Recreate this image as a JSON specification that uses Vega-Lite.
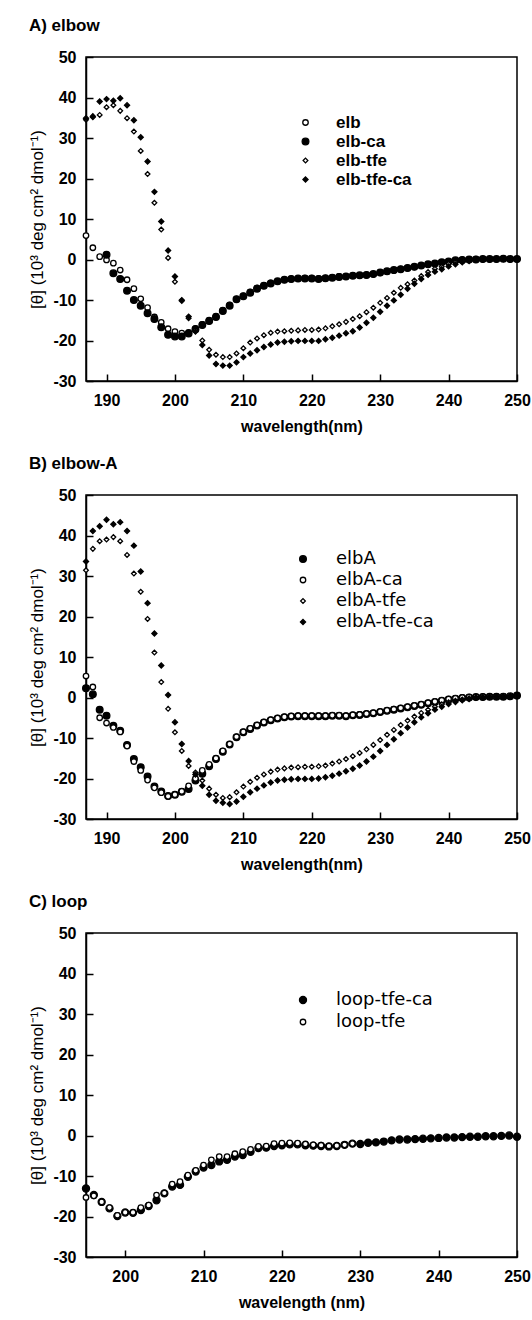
{
"$schema": "https://vega.github.io/schema/vega-lite/v6.json",
"padding": {"left": 28, "top": 16, "right": 0, "bottom": 0},
"background": "white",
"spacing": 19,
"config": {
  "font": "Liberation Sans",
  "view": {"stroke": "black", "strokeWidth": 1.5},
  "axis": {"grid": false, "domainColor": "black", "domainWidth": 1.5, "tickColor": "black", "tickWidth": 1.5, "tickSize": -7,
    "labelFont": "Liberation Sans", "labelFontWeight": "bold", "labelFontSize": 16, "labelColor": "black", "labelFlush": false, "labelOverlap": false,
    "titleFont": "Liberation Sans", "titleColor": "black", "titleFontSize": 16},
  "axisX": {"labelPadding": 18, "titleFontWeight": "bold", "titlePadding": 10},
  "axisY": {"labelPadding": 17, "titleFontWeight": "normal", "titleFontSize": 17, "titlePadding": 6},
  "title": {"anchor": "start", "frame": "bounds", "font": "Liberation Sans", "fontSize": 17, "fontWeight": "bold", "color": "black", "offset": 14},
  "legend": {"orient": "none", "symbolStrokeColor": "black", "symbolStrokeWidth": 1.3, "labelColor": "black", "title": null}
},
"resolve": {"scale": {"shape": "independent", "fill": "independent", "size": "independent", "stroke": "independent", "x": "independent", "y": "independent"}, "legend": {"shape": "independent", "fill": "independent", "size": "independent", "stroke": "independent"}},
"datasets": {
"A": [
{"s":"elb","w":187,"v":5.9},{"s":"elb","w":188,"v":2.9},{"s":"elb","w":189,"v":0.7},{"s":"elb","w":190,"v":-0.1},{"s":"elb","w":191,"v":-0.9},{"s":"elb","w":192,"v":-2.6},{"s":"elb","w":193,"v":-5.0},{"s":"elb","w":194,"v":-7.2},{"s":"elb","w":195,"v":-9.7},{"s":"elb","w":196,"v":-11.9},{"s":"elb","w":197,"v":-14.2},{"s":"elb","w":198,"v":-15.5},{"s":"elb","w":199,"v":-17.1},{"s":"elb","w":200,"v":-17.8},{"s":"elb","w":201,"v":-18.2},{"s":"elb","w":202,"v":-18.0},{"s":"elb","w":203,"v":-17.0},{"s":"elb","w":204,"v":-16.0},{"s":"elb","w":205,"v":-15.0},{"s":"elb","w":206,"v":-14.0},{"s":"elb","w":207,"v":-12.5},{"s":"elb","w":208,"v":-11.2},{"s":"elb","w":209,"v":-9.8},{"s":"elb","w":210,"v":-9.0},{"s":"elb","w":211,"v":-8.0},{"s":"elb","w":212,"v":-7.0},{"s":"elb","w":213,"v":-6.4},{"s":"elb","w":214,"v":-5.8},{"s":"elb","w":215,"v":-5.4},{"s":"elb","w":216,"v":-5.0},{"s":"elb","w":217,"v":-4.8},{"s":"elb","w":218,"v":-4.7},{"s":"elb","w":219,"v":-4.6},{"s":"elb","w":220,"v":-4.6},{"s":"elb","w":221,"v":-4.7},{"s":"elb","w":222,"v":-4.6},{"s":"elb","w":223,"v":-4.4},{"s":"elb","w":224,"v":-4.2},{"s":"elb","w":225,"v":-4.2},{"s":"elb","w":226,"v":-4.0},{"s":"elb","w":227,"v":-3.9},{"s":"elb","w":228,"v":-3.8},{"s":"elb","w":229,"v":-3.6},{"s":"elb","w":230,"v":-3.3},{"s":"elb","w":231,"v":-3.0},{"s":"elb","w":232,"v":-2.7},{"s":"elb","w":233,"v":-2.4},{"s":"elb","w":234,"v":-2.1},{"s":"elb","w":235,"v":-1.8},{"s":"elb","w":236,"v":-1.5},{"s":"elb","w":237,"v":-1.2},{"s":"elb","w":238,"v":-1.0},{"s":"elb","w":239,"v":-0.7},{"s":"elb","w":240,"v":-0.5},{"s":"elb","w":241,"v":-0.3},{"s":"elb","w":242,"v":-0.1},{"s":"elb","w":243,"v":0.0},{"s":"elb","w":244,"v":0.1},{"s":"elb","w":245,"v":0.1},{"s":"elb","w":246,"v":0.1},{"s":"elb","w":247,"v":0.1},{"s":"elb","w":248,"v":0.2},{"s":"elb","w":249,"v":0.1},{"s":"elb","w":250,"v":0.1},
{"s":"elb-ca","w":190,"v":1.2},{"s":"elb-ca","w":191,"v":-3.4},{"s":"elb-ca","w":192,"v":-4.8},{"s":"elb-ca","w":193,"v":-7.7},{"s":"elb-ca","w":194,"v":-10.0},{"s":"elb-ca","w":195,"v":-11.4},{"s":"elb-ca","w":196,"v":-13.3},{"s":"elb-ca","w":197,"v":-14.7},{"s":"elb-ca","w":198,"v":-16.7},{"s":"elb-ca","w":199,"v":-18.6},{"s":"elb-ca","w":200,"v":-19.0},{"s":"elb-ca","w":201,"v":-19.0},{"s":"elb-ca","w":202,"v":-18.3},{"s":"elb-ca","w":203,"v":-17.2},{"s":"elb-ca","w":204,"v":-16.2},{"s":"elb-ca","w":205,"v":-15.2},{"s":"elb-ca","w":206,"v":-14.2},{"s":"elb-ca","w":207,"v":-12.7},{"s":"elb-ca","w":208,"v":-11.4},{"s":"elb-ca","w":209,"v":-9.8},{"s":"elb-ca","w":210,"v":-9.1},{"s":"elb-ca","w":211,"v":-8.2},{"s":"elb-ca","w":212,"v":-7.2},{"s":"elb-ca","w":213,"v":-6.5},{"s":"elb-ca","w":214,"v":-5.9},{"s":"elb-ca","w":215,"v":-5.4},{"s":"elb-ca","w":216,"v":-5.0},{"s":"elb-ca","w":217,"v":-4.8},{"s":"elb-ca","w":218,"v":-4.7},{"s":"elb-ca","w":219,"v":-4.7},{"s":"elb-ca","w":220,"v":-4.7},{"s":"elb-ca","w":221,"v":-4.8},{"s":"elb-ca","w":222,"v":-4.6},{"s":"elb-ca","w":223,"v":-4.5},{"s":"elb-ca","w":224,"v":-4.3},{"s":"elb-ca","w":225,"v":-4.2},{"s":"elb-ca","w":226,"v":-4.0},{"s":"elb-ca","w":227,"v":-3.9},{"s":"elb-ca","w":228,"v":-3.8},{"s":"elb-ca","w":229,"v":-3.6},{"s":"elb-ca","w":230,"v":-3.2},{"s":"elb-ca","w":231,"v":-2.9},{"s":"elb-ca","w":232,"v":-2.6},{"s":"elb-ca","w":233,"v":-2.4},{"s":"elb-ca","w":234,"v":-2.1},{"s":"elb-ca","w":235,"v":-1.8},{"s":"elb-ca","w":236,"v":-1.5},{"s":"elb-ca","w":237,"v":-1.2},{"s":"elb-ca","w":238,"v":-1.0},{"s":"elb-ca","w":239,"v":-0.7},{"s":"elb-ca","w":240,"v":-0.5},{"s":"elb-ca","w":241,"v":-0.2},{"s":"elb-ca","w":242,"v":-0.1},{"s":"elb-ca","w":243,"v":0.0},{"s":"elb-ca","w":244,"v":0.0},{"s":"elb-ca","w":245,"v":0.1},{"s":"elb-ca","w":246,"v":0.1},{"s":"elb-ca","w":247,"v":0.1},{"s":"elb-ca","w":248,"v":0.2},{"s":"elb-ca","w":249,"v":0.1},{"s":"elb-ca","w":250,"v":0.1},
{"s":"elb-tfe","w":187,"v":34.5},{"s":"elb-tfe","w":188,"v":35.4},{"s":"elb-tfe","w":189,"v":35.7},{"s":"elb-tfe","w":190,"v":37.6},{"s":"elb-tfe","w":191,"v":38.1},{"s":"elb-tfe","w":192,"v":36.7},{"s":"elb-tfe","w":193,"v":34.9},{"s":"elb-tfe","w":194,"v":31.6},{"s":"elb-tfe","w":195,"v":26.8},{"s":"elb-tfe","w":196,"v":21.1},{"s":"elb-tfe","w":197,"v":14.0},{"s":"elb-tfe","w":198,"v":7.4},{"s":"elb-tfe","w":199,"v":0.4},{"s":"elb-tfe","w":200,"v":-5.5},{"s":"elb-tfe","w":201,"v":-10.0},{"s":"elb-tfe","w":202,"v":-14.5},{"s":"elb-tfe","w":203,"v":-17.3},{"s":"elb-tfe","w":204,"v":-20.0},{"s":"elb-tfe","w":205,"v":-22.3},{"s":"elb-tfe","w":206,"v":-23.5},{"s":"elb-tfe","w":207,"v":-24.1},{"s":"elb-tfe","w":208,"v":-24.1},{"s":"elb-tfe","w":209,"v":-23.2},{"s":"elb-tfe","w":210,"v":-21.9},{"s":"elb-tfe","w":211,"v":-20.5},{"s":"elb-tfe","w":212,"v":-19.5},{"s":"elb-tfe","w":213,"v":-18.7},{"s":"elb-tfe","w":214,"v":-18.1},{"s":"elb-tfe","w":215,"v":-17.8},{"s":"elb-tfe","w":216,"v":-17.7},{"s":"elb-tfe","w":217,"v":-17.6},{"s":"elb-tfe","w":218,"v":-17.5},{"s":"elb-tfe","w":219,"v":-17.4},{"s":"elb-tfe","w":220,"v":-17.4},{"s":"elb-tfe","w":221,"v":-17.3},{"s":"elb-tfe","w":222,"v":-17.0},{"s":"elb-tfe","w":223,"v":-16.5},{"s":"elb-tfe","w":224,"v":-16.0},{"s":"elb-tfe","w":225,"v":-15.4},{"s":"elb-tfe","w":226,"v":-14.7},{"s":"elb-tfe","w":227,"v":-14.0},{"s":"elb-tfe","w":228,"v":-13.0},{"s":"elb-tfe","w":229,"v":-11.9},{"s":"elb-tfe","w":230,"v":-10.7},{"s":"elb-tfe","w":231,"v":-9.5},{"s":"elb-tfe","w":232,"v":-8.2},{"s":"elb-tfe","w":233,"v":-7.0},{"s":"elb-tfe","w":234,"v":-6.1},{"s":"elb-tfe","w":235,"v":-5.2},{"s":"elb-tfe","w":236,"v":-4.1},{"s":"elb-tfe","w":237,"v":-3.1},{"s":"elb-tfe","w":238,"v":-2.3},{"s":"elb-tfe","w":239,"v":-1.8},{"s":"elb-tfe","w":240,"v":-1.1},{"s":"elb-tfe","w":241,"v":-0.7},{"s":"elb-tfe","w":242,"v":-0.4},{"s":"elb-tfe","w":243,"v":-0.2},{"s":"elb-tfe","w":244,"v":0.0},{"s":"elb-tfe","w":245,"v":0.0},{"s":"elb-tfe","w":246,"v":0.1},{"s":"elb-tfe","w":247,"v":0.1},{"s":"elb-tfe","w":248,"v":0.1},{"s":"elb-tfe","w":249,"v":0.1},{"s":"elb-tfe","w":250,"v":0.1},
{"s":"elb-tfe-ca","w":187,"v":34.9},{"s":"elb-tfe-ca","w":188,"v":35.2},{"s":"elb-tfe-ca","w":189,"v":39.0},{"s":"elb-tfe-ca","w":190,"v":39.6},{"s":"elb-tfe-ca","w":191,"v":39.2},{"s":"elb-tfe-ca","w":192,"v":39.8},{"s":"elb-tfe-ca","w":193,"v":38.1},{"s":"elb-tfe-ca","w":194,"v":34.4},{"s":"elb-tfe-ca","w":195,"v":30.2},{"s":"elb-tfe-ca","w":196,"v":24.2},{"s":"elb-tfe-ca","w":197,"v":16.7},{"s":"elb-tfe-ca","w":198,"v":9.4},{"s":"elb-tfe-ca","w":199,"v":2.2},{"s":"elb-tfe-ca","w":200,"v":-4.2},{"s":"elb-tfe-ca","w":201,"v":-10.2},{"s":"elb-tfe-ca","w":202,"v":-14.1},{"s":"elb-tfe-ca","w":203,"v":-17.8},{"s":"elb-tfe-ca","w":204,"v":-21.1},{"s":"elb-tfe-ca","w":205,"v":-23.7},{"s":"elb-tfe-ca","w":206,"v":-25.8},{"s":"elb-tfe-ca","w":207,"v":-26.2},{"s":"elb-tfe-ca","w":208,"v":-26.2},{"s":"elb-tfe-ca","w":209,"v":-25.4},{"s":"elb-tfe-ca","w":210,"v":-24.1},{"s":"elb-tfe-ca","w":211,"v":-23.2},{"s":"elb-tfe-ca","w":212,"v":-22.4},{"s":"elb-tfe-ca","w":213,"v":-21.6},{"s":"elb-tfe-ca","w":214,"v":-21.0},{"s":"elb-tfe-ca","w":215,"v":-20.5},{"s":"elb-tfe-ca","w":216,"v":-20.3},{"s":"elb-tfe-ca","w":217,"v":-20.2},{"s":"elb-tfe-ca","w":218,"v":-20.1},{"s":"elb-tfe-ca","w":219,"v":-20.1},{"s":"elb-tfe-ca","w":220,"v":-20.1},{"s":"elb-tfe-ca","w":221,"v":-20.1},{"s":"elb-tfe-ca","w":222,"v":-19.7},{"s":"elb-tfe-ca","w":223,"v":-19.3},{"s":"elb-tfe-ca","w":224,"v":-18.8},{"s":"elb-tfe-ca","w":225,"v":-18.2},{"s":"elb-tfe-ca","w":226,"v":-17.7},{"s":"elb-tfe-ca","w":227,"v":-16.8},{"s":"elb-tfe-ca","w":228,"v":-15.6},{"s":"elb-tfe-ca","w":229,"v":-14.4},{"s":"elb-tfe-ca","w":230,"v":-12.9},{"s":"elb-tfe-ca","w":231,"v":-11.4},{"s":"elb-tfe-ca","w":232,"v":-10.1},{"s":"elb-tfe-ca","w":233,"v":-8.7},{"s":"elb-tfe-ca","w":234,"v":-7.2},{"s":"elb-tfe-ca","w":235,"v":-6.0},{"s":"elb-tfe-ca","w":236,"v":-4.8},{"s":"elb-tfe-ca","w":237,"v":-3.8},{"s":"elb-tfe-ca","w":238,"v":-3.0},{"s":"elb-tfe-ca","w":239,"v":-2.4},{"s":"elb-tfe-ca","w":240,"v":-1.7},{"s":"elb-tfe-ca","w":241,"v":-1.2},{"s":"elb-tfe-ca","w":242,"v":-0.7},{"s":"elb-tfe-ca","w":243,"v":-0.4},{"s":"elb-tfe-ca","w":244,"v":-0.1},{"s":"elb-tfe-ca","w":245,"v":0.0},{"s":"elb-tfe-ca","w":246,"v":0.1},{"s":"elb-tfe-ca","w":247,"v":0.1},{"s":"elb-tfe-ca","w":248,"v":0.1},{"s":"elb-tfe-ca","w":249,"v":0.1},{"s":"elb-tfe-ca","w":250,"v":0.1}
],
"B": [
{"s":"elbA","w":187,"v":2.3},{"s":"elbA","w":188,"v":0.8},{"s":"elbA","w":189,"v":-3.0},{"s":"elbA","w":190,"v":-4.5},{"s":"elbA","w":191,"v":-7.0},{"s":"elbA","w":192,"v":-8.2},{"s":"elbA","w":193,"v":-11.7},{"s":"elbA","w":194,"v":-15.2},{"s":"elbA","w":195,"v":-17.2},{"s":"elbA","w":196,"v":-19.5},{"s":"elbA","w":197,"v":-22.0},{"s":"elbA","w":198,"v":-23.2},{"s":"elbA","w":199,"v":-24.3},{"s":"elbA","w":200,"v":-24.0},{"s":"elbA","w":201,"v":-23.3},{"s":"elbA","w":202,"v":-22.6},{"s":"elbA","w":203,"v":-20.5},{"s":"elbA","w":204,"v":-18.8},{"s":"elbA","w":205,"v":-17.0},{"s":"elbA","w":206,"v":-15.2},{"s":"elbA","w":207,"v":-13.4},{"s":"elbA","w":208,"v":-11.6},{"s":"elbA","w":209,"v":-9.8},{"s":"elbA","w":210,"v":-8.6},{"s":"elbA","w":211,"v":-7.8},{"s":"elbA","w":212,"v":-6.9},{"s":"elbA","w":213,"v":-6.2},{"s":"elbA","w":214,"v":-5.6},{"s":"elbA","w":215,"v":-5.2},{"s":"elbA","w":216,"v":-4.9},{"s":"elbA","w":217,"v":-4.7},{"s":"elbA","w":218,"v":-4.6},{"s":"elbA","w":219,"v":-4.6},{"s":"elbA","w":220,"v":-4.6},{"s":"elbA","w":221,"v":-4.6},{"s":"elbA","w":222,"v":-4.6},{"s":"elbA","w":223,"v":-4.5},{"s":"elbA","w":224,"v":-4.5},{"s":"elbA","w":225,"v":-4.6},{"s":"elbA","w":226,"v":-4.4},{"s":"elbA","w":227,"v":-4.3},{"s":"elbA","w":228,"v":-4.1},{"s":"elbA","w":229,"v":-3.9},{"s":"elbA","w":230,"v":-3.6},{"s":"elbA","w":231,"v":-3.3},{"s":"elbA","w":232,"v":-3.0},{"s":"elbA","w":233,"v":-2.7},{"s":"elbA","w":234,"v":-2.4},{"s":"elbA","w":235,"v":-2.1},{"s":"elbA","w":236,"v":-1.8},{"s":"elbA","w":237,"v":-1.4},{"s":"elbA","w":238,"v":-1.1},{"s":"elbA","w":239,"v":-0.8},{"s":"elbA","w":240,"v":-0.5},{"s":"elbA","w":241,"v":-0.3},{"s":"elbA","w":242,"v":-0.1},{"s":"elbA","w":243,"v":0.0},{"s":"elbA","w":244,"v":0.1},{"s":"elbA","w":245,"v":0.1},{"s":"elbA","w":246,"v":0.2},{"s":"elbA","w":247,"v":0.2},{"s":"elbA","w":248,"v":0.2},{"s":"elbA","w":249,"v":0.3},{"s":"elbA","w":250,"v":0.5},
{"s":"elbA-ca","w":187,"v":5.3},{"s":"elbA-ca","w":188,"v":2.6},{"s":"elbA-ca","w":189,"v":-5.0},{"s":"elbA-ca","w":190,"v":-6.3},{"s":"elbA-ca","w":191,"v":-7.4},{"s":"elbA-ca","w":192,"v":-8.5},{"s":"elbA-ca","w":193,"v":-12.0},{"s":"elbA-ca","w":194,"v":-15.8},{"s":"elbA-ca","w":195,"v":-18.0},{"s":"elbA-ca","w":196,"v":-20.4},{"s":"elbA-ca","w":197,"v":-22.3},{"s":"elbA-ca","w":198,"v":-23.5},{"s":"elbA-ca","w":199,"v":-24.4},{"s":"elbA-ca","w":200,"v":-24.0},{"s":"elbA-ca","w":201,"v":-23.2},{"s":"elbA-ca","w":202,"v":-21.8},{"s":"elbA-ca","w":203,"v":-20.0},{"s":"elbA-ca","w":204,"v":-18.0},{"s":"elbA-ca","w":205,"v":-16.5},{"s":"elbA-ca","w":206,"v":-15.0},{"s":"elbA-ca","w":207,"v":-13.2},{"s":"elbA-ca","w":208,"v":-11.5},{"s":"elbA-ca","w":209,"v":-9.7},{"s":"elbA-ca","w":210,"v":-8.5},{"s":"elbA-ca","w":211,"v":-7.6},{"s":"elbA-ca","w":212,"v":-6.8},{"s":"elbA-ca","w":213,"v":-6.1},{"s":"elbA-ca","w":214,"v":-5.5},{"s":"elbA-ca","w":215,"v":-5.1},{"s":"elbA-ca","w":216,"v":-4.8},{"s":"elbA-ca","w":217,"v":-4.6},{"s":"elbA-ca","w":218,"v":-4.5},{"s":"elbA-ca","w":219,"v":-4.5},{"s":"elbA-ca","w":220,"v":-4.5},{"s":"elbA-ca","w":221,"v":-4.5},{"s":"elbA-ca","w":222,"v":-4.5},{"s":"elbA-ca","w":223,"v":-4.4},{"s":"elbA-ca","w":224,"v":-4.4},{"s":"elbA-ca","w":225,"v":-4.5},{"s":"elbA-ca","w":226,"v":-4.3},{"s":"elbA-ca","w":227,"v":-4.2},{"s":"elbA-ca","w":228,"v":-4.0},{"s":"elbA-ca","w":229,"v":-3.8},{"s":"elbA-ca","w":230,"v":-3.5},{"s":"elbA-ca","w":231,"v":-3.2},{"s":"elbA-ca","w":232,"v":-2.9},{"s":"elbA-ca","w":233,"v":-2.6},{"s":"elbA-ca","w":234,"v":-2.3},{"s":"elbA-ca","w":235,"v":-2.0},{"s":"elbA-ca","w":236,"v":-1.7},{"s":"elbA-ca","w":237,"v":-1.3},{"s":"elbA-ca","w":238,"v":-1.0},{"s":"elbA-ca","w":239,"v":-0.7},{"s":"elbA-ca","w":240,"v":-0.4},{"s":"elbA-ca","w":241,"v":-0.2},{"s":"elbA-ca","w":242,"v":0.0},{"s":"elbA-ca","w":243,"v":0.1},{"s":"elbA-ca","w":244,"v":0.1},{"s":"elbA-ca","w":245,"v":0.2},{"s":"elbA-ca","w":246,"v":0.2},{"s":"elbA-ca","w":247,"v":0.2},{"s":"elbA-ca","w":248,"v":0.3},{"s":"elbA-ca","w":249,"v":0.3},{"s":"elbA-ca","w":250,"v":0.4},
{"s":"elbA-tfe","w":187,"v":31.4},{"s":"elbA-tfe","w":188,"v":36.7},{"s":"elbA-tfe","w":189,"v":38.6},{"s":"elbA-tfe","w":190,"v":39.0},{"s":"elbA-tfe","w":191,"v":39.6},{"s":"elbA-tfe","w":192,"v":38.6},{"s":"elbA-tfe","w":193,"v":35.2},{"s":"elbA-tfe","w":194,"v":30.6},{"s":"elbA-tfe","w":195,"v":26.1},{"s":"elbA-tfe","w":196,"v":19.4},{"s":"elbA-tfe","w":197,"v":11.1},{"s":"elbA-tfe","w":198,"v":3.8},{"s":"elbA-tfe","w":199,"v":-2.8},{"s":"elbA-tfe","w":200,"v":-8.6},{"s":"elbA-tfe","w":201,"v":-13.2},{"s":"elbA-tfe","w":202,"v":-16.9},{"s":"elbA-tfe","w":203,"v":-18.5},{"s":"elbA-tfe","w":204,"v":-20.5},{"s":"elbA-tfe","w":205,"v":-22.5},{"s":"elbA-tfe","w":206,"v":-24.0},{"s":"elbA-tfe","w":207,"v":-24.8},{"s":"elbA-tfe","w":208,"v":-24.6},{"s":"elbA-tfe","w":209,"v":-23.4},{"s":"elbA-tfe","w":210,"v":-22.0},{"s":"elbA-tfe","w":211,"v":-20.8},{"s":"elbA-tfe","w":212,"v":-19.8},{"s":"elbA-tfe","w":213,"v":-19.0},{"s":"elbA-tfe","w":214,"v":-18.3},{"s":"elbA-tfe","w":215,"v":-17.8},{"s":"elbA-tfe","w":216,"v":-17.5},{"s":"elbA-tfe","w":217,"v":-17.3},{"s":"elbA-tfe","w":218,"v":-17.2},{"s":"elbA-tfe","w":219,"v":-17.1},{"s":"elbA-tfe","w":220,"v":-17.1},{"s":"elbA-tfe","w":221,"v":-17.0},{"s":"elbA-tfe","w":222,"v":-16.8},{"s":"elbA-tfe","w":223,"v":-16.3},{"s":"elbA-tfe","w":224,"v":-15.8},{"s":"elbA-tfe","w":225,"v":-15.2},{"s":"elbA-tfe","w":226,"v":-14.5},{"s":"elbA-tfe","w":227,"v":-13.7},{"s":"elbA-tfe","w":228,"v":-12.8},{"s":"elbA-tfe","w":229,"v":-11.7},{"s":"elbA-tfe","w":230,"v":-10.5},{"s":"elbA-tfe","w":231,"v":-9.2},{"s":"elbA-tfe","w":232,"v":-8.0},{"s":"elbA-tfe","w":233,"v":-6.8},{"s":"elbA-tfe","w":234,"v":-5.7},{"s":"elbA-tfe","w":235,"v":-4.7},{"s":"elbA-tfe","w":236,"v":-3.8},{"s":"elbA-tfe","w":237,"v":-3.0},{"s":"elbA-tfe","w":238,"v":-2.3},{"s":"elbA-tfe","w":239,"v":-1.7},{"s":"elbA-tfe","w":240,"v":-1.2},{"s":"elbA-tfe","w":241,"v":-0.8},{"s":"elbA-tfe","w":242,"v":-0.5},{"s":"elbA-tfe","w":243,"v":-0.2},{"s":"elbA-tfe","w":244,"v":0.0},{"s":"elbA-tfe","w":245,"v":0.1},{"s":"elbA-tfe","w":246,"v":0.2},{"s":"elbA-tfe","w":247,"v":0.2},{"s":"elbA-tfe","w":248,"v":0.3},{"s":"elbA-tfe","w":249,"v":0.3},{"s":"elbA-tfe","w":250,"v":0.4},
{"s":"elbA-tfe-ca","w":187,"v":33.6},{"s":"elbA-tfe-ca","w":188,"v":41.1},{"s":"elbA-tfe-ca","w":189,"v":42.3},{"s":"elbA-tfe-ca","w":190,"v":43.9},{"s":"elbA-tfe-ca","w":191,"v":42.8},{"s":"elbA-tfe-ca","w":192,"v":43.3},{"s":"elbA-tfe-ca","w":193,"v":41.1},{"s":"elbA-tfe-ca","w":194,"v":37.5},{"s":"elbA-tfe-ca","w":195,"v":31.1},{"s":"elbA-tfe-ca","w":196,"v":23.3},{"s":"elbA-tfe-ca","w":197,"v":15.8},{"s":"elbA-tfe-ca","w":198,"v":7.9},{"s":"elbA-tfe-ca","w":199,"v":0.6},{"s":"elbA-tfe-ca","w":200,"v":-6.1},{"s":"elbA-tfe-ca","w":201,"v":-11.5},{"s":"elbA-tfe-ca","w":202,"v":-15.7},{"s":"elbA-tfe-ca","w":203,"v":-19.0},{"s":"elbA-tfe-ca","w":204,"v":-21.8},{"s":"elbA-tfe-ca","w":205,"v":-24.0},{"s":"elbA-tfe-ca","w":206,"v":-25.5},{"s":"elbA-tfe-ca","w":207,"v":-26.0},{"s":"elbA-tfe-ca","w":208,"v":-26.3},{"s":"elbA-tfe-ca","w":209,"v":-25.7},{"s":"elbA-tfe-ca","w":210,"v":-24.5},{"s":"elbA-tfe-ca","w":211,"v":-23.4},{"s":"elbA-tfe-ca","w":212,"v":-22.5},{"s":"elbA-tfe-ca","w":213,"v":-21.7},{"s":"elbA-tfe-ca","w":214,"v":-21.0},{"s":"elbA-tfe-ca","w":215,"v":-20.5},{"s":"elbA-tfe-ca","w":216,"v":-20.3},{"s":"elbA-tfe-ca","w":217,"v":-20.2},{"s":"elbA-tfe-ca","w":218,"v":-20.1},{"s":"elbA-tfe-ca","w":219,"v":-20.1},{"s":"elbA-tfe-ca","w":220,"v":-20.1},{"s":"elbA-tfe-ca","w":221,"v":-20.0},{"s":"elbA-tfe-ca","w":222,"v":-19.7},{"s":"elbA-tfe-ca","w":223,"v":-19.3},{"s":"elbA-tfe-ca","w":224,"v":-18.8},{"s":"elbA-tfe-ca","w":225,"v":-18.2},{"s":"elbA-tfe-ca","w":226,"v":-17.6},{"s":"elbA-tfe-ca","w":227,"v":-16.8},{"s":"elbA-tfe-ca","w":228,"v":-15.8},{"s":"elbA-tfe-ca","w":229,"v":-14.6},{"s":"elbA-tfe-ca","w":230,"v":-13.2},{"s":"elbA-tfe-ca","w":231,"v":-11.7},{"s":"elbA-tfe-ca","w":232,"v":-10.3},{"s":"elbA-tfe-ca","w":233,"v":-8.8},{"s":"elbA-tfe-ca","w":234,"v":-7.4},{"s":"elbA-tfe-ca","w":235,"v":-6.1},{"s":"elbA-tfe-ca","w":236,"v":-4.9},{"s":"elbA-tfe-ca","w":237,"v":-3.9},{"s":"elbA-tfe-ca","w":238,"v":-3.0},{"s":"elbA-tfe-ca","w":239,"v":-2.3},{"s":"elbA-tfe-ca","w":240,"v":-1.6},{"s":"elbA-tfe-ca","w":241,"v":-1.1},{"s":"elbA-tfe-ca","w":242,"v":-0.7},{"s":"elbA-tfe-ca","w":243,"v":-0.4},{"s":"elbA-tfe-ca","w":244,"v":-0.1},{"s":"elbA-tfe-ca","w":245,"v":0.0},{"s":"elbA-tfe-ca","w":246,"v":0.1},{"s":"elbA-tfe-ca","w":247,"v":0.2},{"s":"elbA-tfe-ca","w":248,"v":0.2},{"s":"elbA-tfe-ca","w":249,"v":0.3},{"s":"elbA-tfe-ca","w":250,"v":0.4}
],
"C": [
{"s":"loop-tfe-ca","w":195,"v":-13.1},{"s":"loop-tfe-ca","w":196,"v":-14.7},{"s":"loop-tfe-ca","w":197,"v":-16.4},{"s":"loop-tfe-ca","w":198,"v":-18.0},{"s":"loop-tfe-ca","w":199,"v":-19.9},{"s":"loop-tfe-ca","w":200,"v":-19.0},{"s":"loop-tfe-ca","w":201,"v":-19.1},{"s":"loop-tfe-ca","w":202,"v":-18.4},{"s":"loop-tfe-ca","w":203,"v":-17.4},{"s":"loop-tfe-ca","w":204,"v":-16.0},{"s":"loop-tfe-ca","w":205,"v":-14.3},{"s":"loop-tfe-ca","w":206,"v":-12.6},{"s":"loop-tfe-ca","w":207,"v":-12.2},{"s":"loop-tfe-ca","w":208,"v":-10.2},{"s":"loop-tfe-ca","w":209,"v":-8.9},{"s":"loop-tfe-ca","w":210,"v":-7.9},{"s":"loop-tfe-ca","w":211,"v":-7.3},{"s":"loop-tfe-ca","w":212,"v":-6.4},{"s":"loop-tfe-ca","w":213,"v":-6.0},{"s":"loop-tfe-ca","w":214,"v":-5.2},{"s":"loop-tfe-ca","w":215,"v":-4.8},{"s":"loop-tfe-ca","w":216,"v":-4.0},{"s":"loop-tfe-ca","w":217,"v":-3.1},{"s":"loop-tfe-ca","w":218,"v":-3.0},{"s":"loop-tfe-ca","w":219,"v":-2.6},{"s":"loop-tfe-ca","w":220,"v":-2.4},{"s":"loop-tfe-ca","w":221,"v":-2.2},{"s":"loop-tfe-ca","w":222,"v":-2.2},{"s":"loop-tfe-ca","w":223,"v":-2.4},{"s":"loop-tfe-ca","w":224,"v":-2.5},{"s":"loop-tfe-ca","w":225,"v":-2.6},{"s":"loop-tfe-ca","w":226,"v":-2.7},{"s":"loop-tfe-ca","w":227,"v":-2.6},{"s":"loop-tfe-ca","w":228,"v":-2.3},{"s":"loop-tfe-ca","w":229,"v":-2.0},{"s":"loop-tfe-ca","w":230,"v":-2.1},{"s":"loop-tfe-ca","w":231,"v":-1.8},{"s":"loop-tfe-ca","w":232,"v":-1.7},{"s":"loop-tfe-ca","w":233,"v":-1.5},{"s":"loop-tfe-ca","w":234,"v":-1.2},{"s":"loop-tfe-ca","w":235,"v":-1.0},{"s":"loop-tfe-ca","w":236,"v":-1.0},{"s":"loop-tfe-ca","w":237,"v":-0.9},{"s":"loop-tfe-ca","w":238,"v":-0.8},{"s":"loop-tfe-ca","w":239,"v":-0.7},{"s":"loop-tfe-ca","w":240,"v":-0.6},{"s":"loop-tfe-ca","w":241,"v":-0.5},{"s":"loop-tfe-ca","w":242,"v":-0.5},{"s":"loop-tfe-ca","w":243,"v":-0.4},{"s":"loop-tfe-ca","w":244,"v":-0.3},{"s":"loop-tfe-ca","w":245,"v":-0.3},{"s":"loop-tfe-ca","w":246,"v":-0.2},{"s":"loop-tfe-ca","w":247,"v":-0.2},{"s":"loop-tfe-ca","w":248,"v":-0.1},{"s":"loop-tfe-ca","w":249,"v":0.0},{"s":"loop-tfe-ca","w":250,"v":-0.3},
{"s":"loop-tfe","w":195,"v":-15.3},{"s":"loop-tfe","w":196,"v":-14.9},{"s":"loop-tfe","w":197,"v":-16.4},{"s":"loop-tfe","w":198,"v":-17.8},{"s":"loop-tfe","w":199,"v":-19.7},{"s":"loop-tfe","w":200,"v":-19.0},{"s":"loop-tfe","w":201,"v":-19.0},{"s":"loop-tfe","w":202,"v":-17.8},{"s":"loop-tfe","w":203,"v":-17.2},{"s":"loop-tfe","w":204,"v":-14.7},{"s":"loop-tfe","w":205,"v":-14.2},{"s":"loop-tfe","w":206,"v":-12.0},{"s":"loop-tfe","w":207,"v":-11.4},{"s":"loop-tfe","w":208,"v":-9.8},{"s":"loop-tfe","w":209,"v":-8.6},{"s":"loop-tfe","w":210,"v":-7.3},{"s":"loop-tfe","w":211,"v":-6.0},{"s":"loop-tfe","w":212,"v":-5.2},{"s":"loop-tfe","w":213,"v":-5.2},{"s":"loop-tfe","w":214,"v":-4.5},{"s":"loop-tfe","w":215,"v":-4.0},{"s":"loop-tfe","w":216,"v":-3.4},{"s":"loop-tfe","w":217,"v":-2.7},{"s":"loop-tfe","w":218,"v":-2.6},{"s":"loop-tfe","w":219,"v":-2.0},{"s":"loop-tfe","w":220,"v":-1.9},{"s":"loop-tfe","w":221,"v":-1.8},{"s":"loop-tfe","w":222,"v":-1.9},{"s":"loop-tfe","w":223,"v":-2.1},{"s":"loop-tfe","w":224,"v":-2.3},{"s":"loop-tfe","w":225,"v":-2.4},{"s":"loop-tfe","w":226,"v":-2.6},{"s":"loop-tfe","w":227,"v":-2.5},{"s":"loop-tfe","w":228,"v":-2.3},{"s":"loop-tfe","w":229,"v":-2.0}
]
},
"vconcat": [
{
  "title": {"text": "A) elbow"},
  "width": 431, "height": 324,
  "data": {"name": "A"},
  "mark": {"type": "point", "filled": true, "strokeWidth": 1.3, "opacity": 1},
  "encoding": {
    "x": {"field": "w", "type": "quantitative", "scale": {"domain": [187, 250], "nice": false, "zero": false}, "axis": {"values": [190, 200, 210, 220, 230, 240, 250], "title": "wavelength(nm)"}},
    "y": {"field": "v", "type": "quantitative", "scale": {"domain": [-30, 50], "nice": false}, "axis": {"values": [-30, -20, -10, 0, 10, 20, 30, 40, 50], "labelExpr": "'' + datum.value", "title": "[θ] (10³ deg cm² dmol⁻¹)"}},
    "shape": {"field": "s", "type": "nominal", "scale": {"domain": ["elb", "elb-ca", "elb-tfe", "elb-tfe-ca"], "range": ["circle", "circle", "diamond", "diamond"]},
      "legend": {"legendX": 211, "legendY": 57, "labelFontSize": 17, "labelFontWeight": "bold", "labelFont": "Liberation Sans", "labelOffset": 22, "rowPadding": 1}},
    "fill": {"field": "s", "type": "nominal", "scale": {"domain": ["elb", "elb-ca", "elb-tfe", "elb-tfe-ca"], "range": ["white", "black", "white", "black"]}},
    "stroke": {"field": "s", "type": "nominal", "scale": {"domain": ["elb", "elb-ca", "elb-tfe", "elb-tfe-ca"], "range": ["black", "black", "black", "black"]}},
    "size": {"field": "s", "type": "nominal", "scale": {"type": "ordinal", "domain": ["elb", "elb-ca", "elb-tfe", "elb-tfe-ca"], "range": [30, 45, 22, 26]}}
  }
},
{
  "title": {"text": "B) elbow-A"},
  "width": 431, "height": 324,
  "data": {"name": "B"},
  "mark": {"type": "point", "filled": true, "strokeWidth": 1.3, "opacity": 1},
  "encoding": {
    "x": {"field": "w", "type": "quantitative", "scale": {"domain": [187, 250], "nice": false, "zero": false}, "axis": {"values": [190, 200, 210, 220, 230, 240, 250], "title": "wavelength(nm)"}},
    "y": {"field": "v", "type": "quantitative", "scale": {"domain": [-30, 50], "nice": false}, "axis": {"values": [-30, -20, -10, 0, 10, 20, 30, 40, 50], "labelExpr": "'' + datum.value", "title": "[θ] (10³ deg cm² dmol⁻¹)"}},
    "shape": {"field": "s", "type": "nominal", "scale": {"domain": ["elbA", "elbA-ca", "elbA-tfe", "elbA-tfe-ca"], "range": ["circle", "circle", "diamond", "diamond"]},
      "legend": {"legendX": 208, "legendY": 55, "labelFontSize": 18, "labelFontWeight": "normal", "labelFont": "DejaVu Sans", "labelOffset": 24, "rowPadding": 3}},
    "fill": {"field": "s", "type": "nominal", "scale": {"domain": ["elbA", "elbA-ca", "elbA-tfe", "elbA-tfe-ca"], "range": ["black", "white", "white", "black"]}},
    "stroke": {"field": "s", "type": "nominal", "scale": {"domain": ["elbA", "elbA-ca", "elbA-tfe", "elbA-tfe-ca"], "range": ["black", "black", "black", "black"]}},
    "size": {"field": "s", "type": "nominal", "scale": {"type": "ordinal", "domain": ["elbA", "elbA-ca", "elbA-tfe", "elbA-tfe-ca"], "range": [45, 30, 22, 26]}}
  }
},
{
  "title": {"text": "C) loop"},
  "width": 431, "height": 324,
  "data": {"name": "C"},
  "mark": {"type": "point", "filled": true, "strokeWidth": 1.3, "opacity": 1},
  "encoding": {
    "x": {"field": "w", "type": "quantitative", "scale": {"domain": [195, 250], "nice": false, "zero": false}, "axis": {"values": [200, 210, 220, 230, 240, 250], "title": "wavelength (nm)"}},
    "y": {"field": "v", "type": "quantitative", "scale": {"domain": [-30, 50], "nice": false}, "axis": {"values": [-30, -20, -10, 0, 10, 20, 30, 40, 50], "labelExpr": "'' + datum.value", "title": "[θ] (10³ deg cm² dmol⁻¹)"}},
    "shape": {"field": "s", "type": "nominal", "scale": {"domain": ["loop-tfe-ca", "loop-tfe"], "range": ["circle", "circle"]},
      "legend": {"legendX": 208, "legendY": 58, "labelFontSize": 18, "labelFontWeight": "normal", "labelFont": "DejaVu Sans", "labelOffset": 24, "rowPadding": 4}},
    "fill": {"field": "s", "type": "nominal", "scale": {"domain": ["loop-tfe-ca", "loop-tfe"], "range": ["black", "white"]}},
    "stroke": {"field": "s", "type": "nominal", "scale": {"domain": ["loop-tfe-ca", "loop-tfe"], "range": ["black", "black"]}},
    "size": {"field": "s", "type": "nominal", "scale": {"type": "ordinal", "domain": ["loop-tfe-ca", "loop-tfe"], "range": [50, 30]}}
  }
}
]
}
